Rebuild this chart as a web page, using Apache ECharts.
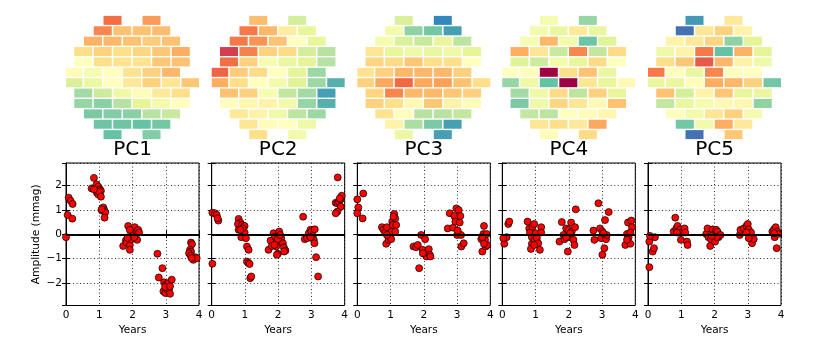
<!DOCTYPE html>
<html>
<head>
<meta charset="utf-8">
<script src="https://cdn.jsdelivr.net/npm/echarts@6/dist/echarts.min.js"></script>
<style>
html, body { margin: 0; padding: 0; background: #fff; }
#main { width: 830px; height: 340px; }
</style>
</head>
<body>
<div id="main"></div>
<script>
var pcNames = ['PC1', 'PC2', 'PC3', 'PC4', 'PC5'];
var yearTicks = [0, 1, 2, 3, 4];

// columns (in half-cell steps) of the cells on each of the 12 rows of the focal plane
var cellCols = [
	[4, 8],
	[3, 5, 7, 9],
	[2, 4, 6, 8, 10],
	[1, 3, 5, 7, 9, 11],
	[1, 3, 5, 7, 9, 11],
	[0, 2, 4, 6, 8, 10],
	[0, 2, 4, 6, 8, 10, 12],
	[1, 3, 5, 7, 9, 11],
	[1, 3, 5, 7, 9, 11],
	[2, 4, 6, 8, 10],
	[3, 5, 7, 9],
	[4, 8]
];

// cell values on a 0..10 scale of the Spectral colour map
var pc1Map = [
	[2.0, 2.7],
	[2.4, 3.4, 3.4, 3.3],
	[3.1, 3.2, 3.4, 3.6, 3.4],
	[4.0, 3.7, 4.0, 3.8, 3.5, 3.0],
	[5.0, 4.0, 4.1, 4.1, 3.5, 3.4],
	[4.9, 5.4, 5.0, 4.1, 3.7, 3.2],
	[6.2, 5.7, 5.0, 4.3, 3.7, 4.2, 3.5],
	[7.1, 6.4, 5.6, 4.9, 4.3, 4.0],
	[7.3, 7.5, 6.8, 6.0, 5.5, 5.0],
	[7.7, 7.6, 7.5, 6.8, 6.5],
	[7.9, 7.9, 8.0, 7.8],
	[8.0, 7.6]
];
var pc2Map = [
	[3.3, 6.3],
	[2.2, 3.2, 4.4, 5.9],
	[2.2, 2.6, 3.4, 5.0, 5.9],
	[1.0, 2.3, 3.7, 3.9, 6.3, 6.8],
	[2.0, 3.7, 5.3, 5.8, 6.0, 6.8],
	[1.8, 3.6, 3.9, 5.0, 6.0, 7.2],
	[3.0, 4.0, 5.0, 5.5, 6.1, 7.2, 8.3],
	[3.4, 3.7, 5.3, 6.6, 7.1, 8.6],
	[5.0, 4.7, 4.6, 5.5, 7.3, 8.3],
	[4.3, 4.6, 5.6, 6.7, 7.2],
	[4.2, 4.9, 5.0, 5.6],
	[4.0, 5.5]
];
var pc3Map = [
	[6.2, 9.0],
	[5.5, 7.4, 7.8, 8.6],
	[5.4, 6.2, 6.5, 5.9, 6.7],
	[4.2, 5.9, 5.6, 5.8, 5.6, 6.0],
	[3.8, 3.9, 3.5, 4.0, 4.0, 5.0],
	[4.1, 3.7, 3.2, 3.2, 3.2, 3.7],
	[3.7, 2.9, 1.9, 2.9, 2.8, 3.4, 4.0],
	[3.8, 2.4, 3.2, 3.2, 3.5, 3.7],
	[3.7, 4.0, 4.8, 3.5, 4.6, 4.9],
	[4.1, 5.1, 6.8, 6.8, 6.6],
	[4.6, 7.0, 7.7, 8.6],
	[5.7, 8.6]
];
var pc4Map = [
	[5.4, 7.3],
	[5.5, 5.8, 4.3, 5.8],
	[5.3, 3.2, 5.5, 7.9, 6.1],
	[3.0, 4.2, 6.5, 2.4, 6.6, 3.9],
	[6.1, 6.4, 5.5, 5.9, 3.9, 5.0],
	[5.0, 5.1, 0.05, 4.0, 3.4, 5.8],
	[7.3, 5.6, 8.0, 0.0, 4.2, 5.9, 4.8],
	[7.1, 5.6, 3.9, 6.7, 3.7, 5.9],
	[7.7, 5.6, 3.8, 4.2, 4.8, 3.4],
	[6.6, 6.7, 5.0, 4.9, 4.7],
	[4.2, 4.0, 4.3, 2.9],
	[4.9, 3.9]
];
var pc5Map = [
	[8.7, 4.3],
	[9.4, 4.2, 3.7, 4.6],
	[4.6, 4.3, 3.8, 7.4, 6.0],
	[5.6, 4.6, 2.2, 8.0, 3.1, 6.0],
	[4.0, 3.5, 1.6, 3.2, 4.6, 5.6],
	[2.2, 5.1, 5.8, 2.4, 5.1, 5.0],
	[5.8, 5.8, 5.1, 3.0, 3.2, 3.7, 7.8],
	[3.4, 6.3, 4.6, 3.5, 5.9, 5.8],
	[6.6, 5.8, 5.4, 4.8, 4.7, 7.4],
	[5.1, 5.5, 4.2, 3.7, 5.4],
	[7.8, 5.5, 3.0, 4.3],
	[9.4, 3.5]
];

// [years, amplitude in mmag]
var pc1Pts = [
	[0.00,-0.12],[0.05,0.79],[0.08,1.50],[0.14,1.37],[0.20,1.24],[0.19,0.64],
	[0.84,2.31],[0.77,1.88],[0.87,1.90],[0.92,2.04],[0.97,1.95],[1.02,1.84],[1.05,1.78],[0.93,1.70],[0.97,1.63],[1.00,1.74],[1.05,1.54],[0.84,1.84],
	[1.12,1.10],[1.08,0.97],[1.15,0.99],[1.18,0.90],[1.16,0.68],[1.07,1.02],
	[1.87,0.34],[1.72,-0.48],[1.80,-0.26],[1.82,-0.34],[1.87,-0.12],[1.92,-0.44],[1.92,-0.64],[1.97,-0.20],[2.00,0.11],[2.02,-0.03],[2.07,0.29],[2.13,0.11],[2.14,-0.23],[2.17,0.18],[2.20,0.07],[2.05,-0.12],[1.92,0.18],[1.85,-0.15],
	[2.75,-0.80],[2.79,-1.77],[2.90,-1.39],[2.95,-1.97],[3.00,-2.07],[2.93,-2.34],[2.99,-2.41],[3.05,-2.27],[3.10,-2.24],[3.13,-2.44],[3.08,-2.00],[3.18,-1.86],[2.98,-2.16],[3.13,-2.13],
	[3.76,-0.34],[3.79,-0.41],[3.73,-0.64],[3.76,-0.71],[3.70,-0.78],[3.75,-0.88],[3.83,-1.05],[3.88,-0.94],[3.93,-0.98],[3.78,-0.98]
];
var pc2Pts = [
	[0.02,-1.21],[0.02,0.88],[0.10,0.86],[0.15,0.79],[0.20,0.56],[0.18,0.65],
	[0.81,0.63],[0.86,0.48],[0.79,0.42],[0.91,0.38],[0.99,0.34],[0.81,0.18],[0.94,0.11],[0.99,0.07],[0.89,-0.12],[1.03,-0.16],[0.93,0.24],[0.86,0.18],
	[1.06,-0.50],[1.11,-0.64],[1.06,-1.12],[1.11,-1.18],[1.14,-1.22],[1.16,-1.80],[1.19,-1.73],
	[1.71,-0.64],[1.77,-0.26],[1.81,-0.48],[1.86,0.04],[1.91,-0.10],[1.96,-0.30],[1.99,-0.80],[2.03,0.11],[2.09,-0.16],[2.14,-0.37],[2.17,-0.54],[2.22,-0.67],[2.18,-0.71],[1.94,-0.50],[1.99,-0.20],[1.89,-0.44],[2.06,-0.03],[1.96,-0.84],
	[2.75,0.72],[2.80,-0.20],[2.87,-0.16],[2.92,0.04],[2.97,0.18],[3.00,0.11],[3.04,-0.07],[3.10,0.20],[3.07,-0.23],[2.97,-0.12],[3.09,-0.37],[3.14,-0.94],[3.20,-1.73],
	[3.79,2.33],[3.73,1.29],[3.78,1.27],[3.83,1.33],[3.88,1.43],[3.91,1.58],[3.88,1.13],[3.78,0.93],[3.73,0.86],[3.85,1.47]
];
var pc3Pts = [
	[0.00,1.43],[0.03,1.10],[0.00,0.86],[0.18,1.67],[0.16,0.65],
	[0.74,0.29],[0.79,0.18],[0.84,0.07],[0.87,-0.39],[0.89,0.29],[0.94,-0.23],[0.97,-0.03],[0.99,-0.12],[1.02,-0.20],[1.04,0.11],[1.05,0.52],[1.07,0.38],[1.11,0.83],[1.14,0.65],[1.17,0.38],[1.14,0.11],[1.09,0.72],[0.89,-0.03],
	[1.69,-0.50],[1.77,-0.53],[1.82,-0.44],[1.86,-1.39],[1.92,-0.03],[1.97,-0.64],[2.01,-0.80],[2.04,-0.20],[2.08,-0.91],[2.12,-0.71],[2.15,-0.61],[2.18,-0.84],[2.20,-0.91],[1.97,-0.78],
	[2.72,0.24],[2.78,0.86],[2.88,0.27],[2.92,0.75],[2.95,0.52],[2.98,1.06],[3.00,-0.03],[3.05,0.99],[3.08,0.48],[3.10,0.75],[3.12,-0.03],[3.13,-0.50],[3.20,-0.37],[3.02,0.15],
	[3.73,-0.20],[3.76,-0.71],[3.79,0.01],[3.81,0.34],[3.84,-0.23],[3.86,-0.50],[3.89,0.01],[3.91,-0.44],[3.81,-0.39],[3.76,-0.12]
];
var pc4Pts = [
	[0.06,-0.39],[0.13,-0.12],[0.18,0.42],[0.21,0.52],[0.03,-0.16],
	[0.76,0.52],[0.81,0.24],[0.83,0.07],[0.89,-0.12],[0.89,-0.39],[0.91,0.31],[0.86,-0.60],[0.96,0.42],[0.98,-0.23],[1.01,0.04],[1.04,-0.16],[1.08,-0.37],[1.13,-0.64],[1.17,0.29],[1.17,0.07],[0.96,-0.44],
	[1.72,-0.30],[1.79,0.50],[1.84,-0.03],[1.87,-0.20],[1.92,0.24],[1.97,-0.71],[1.99,0.18],[2.01,-0.12],[2.07,0.48],[2.09,0.11],[2.14,-0.23],[2.17,-0.44],[2.19,0.29],[2.21,1.02],[2.04,0.04],[1.92,-0.12],
	[2.74,0.15],[2.77,-0.23],[2.89,1.27],[2.94,0.24],[2.97,-0.16],[3.01,0.11],[3.01,-0.84],[3.07,-0.57],[3.09,0.58],[3.12,-0.20],[3.14,-0.03],[3.20,0.91],[3.04,0.04],
	[3.70,-0.44],[3.75,0.01],[3.78,0.48],[3.80,-0.12],[3.85,-0.39],[3.88,0.56],[3.90,0.29],[3.85,0.07],[3.75,-0.23]
];
var pc5Pts = [
	[0.04,-1.35],[0.04,-0.30],[0.14,-0.71],[0.18,-0.57],[0.21,-0.12],[0.06,-0.07],
	[0.82,0.68],[0.77,0.11],[0.85,0.24],[0.89,0.34],[0.92,0.07],[0.97,0.20],[0.99,-0.23],[1.05,0.11],[1.10,0.24],[1.12,0.07],[1.17,-0.30],[1.19,-0.44],[0.87,0.07],
	[1.75,0.01],[1.79,0.24],[1.82,-0.12],[1.87,-0.48],[1.89,-0.20],[1.95,0.20],[1.97,-0.03],[2.02,-0.30],[2.05,0.18],[2.09,0.11],[2.12,-0.12],[2.18,-0.03],[2.07,-0.12],[1.92,-0.07],
	[2.76,-0.03],[2.78,0.18],[2.88,0.24],[2.96,0.34],[3.00,0.42],[3.03,0.20],[3.06,-0.03],[3.10,0.07],[3.13,-0.37],[3.18,-0.20],[2.96,0.07],[3.03,-0.16],
	[3.74,0.11],[3.79,0.20],[3.81,-0.12],[3.84,0.29],[3.87,-0.57],[3.89,0.11],[3.91,0.01],[3.79,0.04]
];

var spectral = ['#9e0142', '#d53e4f', '#f46d43', '#fdae61', '#fee08b', '#ffffbf',
	'#e6f598', '#abdda4', '#66c2a5', '#3288bd', '#5e4fa2'];

var maps = [pc1Map, pc2Map, pc3Map, pc4Map, pc5Map];
var pts = [pc1Pts, pc2Pts, pc3Pts, pc4Pts, pc5Pts];

var plotLeft = [66, 211.7, 357.3, 502.3, 648];
var plotWidth = 133;
var fontName = 'DejaVu Sans';

function cellData(map) {
	var out = [];
	for (var r = 0; r < map.length; r++) {
		for (var c = 0; c < map[r].length; c++) {
			out.push([cellCols[r][c], r + 1, map[r][c]]);
		}
	}
	return out;
}

function renderCell(params, api) {
	var p = api.coord([api.value(0), api.value(1)]);
	var s = api.size([1, 1]);
	var w = s[0] * 1.846, h = s[1] * 0.867;
	var cs = params.coordSys;
	var shape = echarts.graphic.clipRectByRect(
		{ x: p[0] - w / 2, y: p[1] - h / 2, width: w, height: h },
		{ x: cs.x, y: cs.y, width: cs.width, height: cs.height });
	return shape && {
		type: 'rect',
		shape: shape,
		style: { fill: api.visual('color') }
	};
}

function minusSign(v) {
	if (Math.abs(v - Math.round(v)) > 1e-6) return '';
	return String(Math.round(v)).replace('-', '\u2212');
}

var grid = [], xAxis = [], yAxis = [], series = [], title = [];
var i;
// focal plane maps
for (i = 0; i < 5; i++) {
	grid.push({ left: plotLeft[i], top: 10, width: plotWidth, height: 135 });
	xAxis.push({ gridIndex: i, type: 'value', min: -0.77, max: 12.87, show: false });
	yAxis.push({ gridIndex: i, type: 'value', min: 0, max: 13, inverse: true, show: false });
	series.push({
		type: 'custom',
		xAxisIndex: i,
		yAxisIndex: i,
		renderItem: renderCell,
		encode: { x: 0, y: 1 },
		data: cellData(maps[i])
	});
	title.push({
		text: pcNames[i],
		left: plotLeft[i] + plotWidth / 2,
		top: 140,
		padding: 0,
		textAlign: 'center',
		textStyle: { fontFamily: fontName, fontSize: 20, fontWeight: 'normal', color: '#000' }
	});
}
// amplitude panels
for (i = 0; i < 5; i++) {
	var g = 5 + i;
	grid.push({ left: plotLeft[i], top: 163, width: plotWidth, height: 142.5,
		show: true, borderColor: '#000', borderWidth: 1 });
	xAxis.push({
		gridIndex: g, type: 'value', min: 0, max: 4, interval: 1,
		name: 'Years', nameLocation: 'middle', nameGap: 19,
		nameTextStyle: { fontFamily: fontName, fontSize: 10.5, color: '#000' },
		axisLine: { show: true, lineStyle: { color: '#000', width: 1 } },
		axisTick: { inside: true, length: 4, lineStyle: { color: '#000' } },
		axisLabel: { fontFamily: fontName, fontSize: 10.5, color: '#000', margin: 4 },
		splitLine: { show: true, lineStyle: { color: '#000', width: 0.8, type: [1, 2.5] } }
	});
	yAxis.push({
		gridIndex: g, type: 'value', min: -2.92, max: 2.92,
		name: i === 0 ? 'Amplitude (mmag)' : '', nameLocation: 'middle', nameGap: 24,
		nameTextStyle: { fontFamily: fontName, fontSize: 10.6, color: '#000' },
		axisLine: { show: true, lineStyle: { color: '#000', width: 1 } },
		axisTick: { inside: true, length: 4, lineStyle: { color: '#000' } },
		axisLabel: { show: i === 0, showMinLabel: false, showMaxLabel: false,
			fontFamily: fontName, fontSize: 10.5, color: '#000', margin: 4, formatter: minusSign },
		splitLine: { show: true, lineStyle: { color: '#000', width: 0.8, type: [1, 2.5] } }
	});
}
// ticks on the top and right edges
for (i = 0; i < 5; i++) {
	xAxis.push({
		gridIndex: 5 + i, type: 'value', position: 'top', min: 0, max: 4, interval: 1,
		axisLine: { show: true, lineStyle: { color: '#000' } },
		axisTick: { inside: true, length: 4, lineStyle: { color: '#000' } },
		axisLabel: { show: false }, splitLine: { show: false }
	});
	yAxis.push({
		gridIndex: 5 + i, type: 'value', position: 'right', min: -2.92, max: 2.92,
		axisLine: { show: true, lineStyle: { color: '#000' } },
		axisTick: { inside: true, length: 4, lineStyle: { color: '#000' } },
		axisLabel: { show: false }, splitLine: { show: false }
	});
	series.push({
		type: 'scatter',
		xAxisIndex: 5 + i,
		yAxisIndex: 5 + i,
		symbolSize: 7,
		itemStyle: { color: '#ff0000', borderColor: '#000', borderWidth: 0.7, opacity: 1 },
		markLine: {
			silent: true,
			symbol: ['none', 'none'],
			label: { show: false },
			lineStyle: { color: '#000', width: 2, type: 'solid' },
			data: [{ yAxis: 0 }]
		},
		data: pts[i]
	});
}

var chart = echarts.init(document.getElementById('main'), null, { renderer: 'canvas' });
chart.setOption({
	animation: false,
	backgroundColor: '#fff',
	textStyle: { fontFamily: fontName },
	title: title,
	visualMap: {
		type: 'continuous',
		show: false,
		min: 0,
		max: 10,
		dimension: 2,
		seriesIndex: [0, 1, 2, 3, 4],
		inRange: { color: spectral }
	},
	grid: grid,
	xAxis: xAxis,
	yAxis: yAxis,
	series: series
});
</script>
</body>
</html>
